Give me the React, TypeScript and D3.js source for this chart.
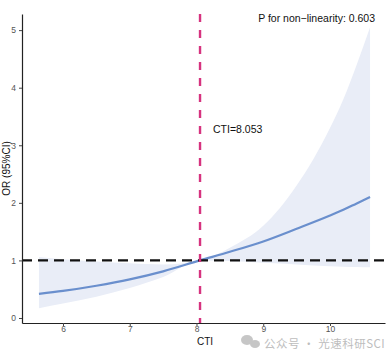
import React, { useEffect, useRef } from "react";
import * as d3 from "d3";

// spline estimate
const cti = [5.64, 6.0, 6.5, 7.0, 7.5, 8.053, 8.5, 9.0, 9.5, 10.0, 10.2, 10.4, 10.6];
const orValue = [0.42, 0.47, 0.56, 0.67, 0.81, 1.0, 1.15, 1.33, 1.55, 1.78, 1.88, 1.99, 2.1];
const lower = [0.17, 0.25, 0.37, 0.52, 0.71, 1.0, 0.99, 0.96, 0.93, 0.9, 0.89, 0.885, 0.88];
const upper = [1.06, 1.02, 0.98, 0.95, 0.93, 1.0, 1.22, 1.6, 2.3, 3.3, 3.8, 4.4, 5.05];
const xTicks = [6, 7, 8, 9, 10];
const yTicks = [0, 1, 2, 3, 4, 5];
const cutoff = 8.053;
const pNonLinear = "0.603";

export default function App() {
  const ref = useRef<SVGSVGElement>(null);

  useEffect(() => {
    const svg = d3.select(ref.current);
    svg.selectAll("*").remove();

    const x = d3.scaleLinear().domain([5.386, 10.824]).range([22, 385]);
    const y = d3.scaleLinear().domain([-0.087, 5.28]).range([323, 14]);
    const font = "'Liberation Sans', Arial, sans-serif";

    const rows = cti.map((c, i) => ({ c, or: orValue[i], lo: lower[i], hi: upper[i] }));

    const area = d3.area<any>()
      .x((d) => x(d.c))
      .y0((d) => y(d.lo))
      .y1((d) => y(d.hi))
      .curve(d3.curveMonotoneX);

    svg.append("path")
      .datum(rows)
      .attr("d", area)
      .attr("fill", "#e9edf7");

    const line = d3.line<any>()
      .x((d) => x(d.c))
      .y((d) => y(d.or))
      .curve(d3.curveMonotoneX);

    svg.append("path")
      .datum(rows)
      .attr("d", line)
      .attr("fill", "none")
      .attr("stroke", "#6a8fcd")
      .attr("stroke-width", 2.2);

    // reference line OR = 1
    svg.append("line")
      .attr("x1", x.range()[0]).attr("x2", x.range()[1])
      .attr("y1", y(1)).attr("y2", y(1))
      .attr("stroke", "#111")
      .attr("stroke-width", 2.2)
      .attr("stroke-dasharray", "10,6");

    // cutoff line
    svg.append("line")
      .attr("x1", x(cutoff)).attr("x2", x(cutoff))
      .attr("y1", y.range()[1]).attr("y2", y.range()[0])
      .attr("stroke", "#d6337f")
      .attr("stroke-width", 2.4)
      .attr("stroke-dasharray", "8,8");

    // axes
    const xAxis = svg.append("g")
      .attr("transform", `translate(0,${y.range()[0]})`)
      .call(d3.axisBottom(x).tickValues(xTicks).tickFormat(d3.format("d")).tickSize(3).tickPadding(0).tickSizeOuter(0));
    const yAxis = svg.append("g")
      .attr("transform", `translate(${x.range()[0]},0)`)
      .call(d3.axisLeft(y).tickValues(yTicks).tickFormat(d3.format("d")).tickSize(3).tickPadding(3).tickSizeOuter(0));

    [xAxis, yAxis].forEach((g) => {
      g.select(".domain").attr("stroke", "#222").attr("stroke-width", 1.2);
      g.selectAll(".tick line").attr("stroke", "#444");
      g.selectAll(".tick text")
        .attr("fill", "#555")
        .attr("font-size", 8.5)
        .attr("font-family", font);
    });

    svg.append("text")
      .attr("x", 205)
      .attr("y", 344.5)
      .attr("text-anchor", "middle")
      .attr("font-size", 10)
      .attr("font-family", font)
      .attr("fill", "#111")
      .text("CTI");

    svg.append("text")
      .attr("transform", `translate(10,${(y.range()[0] + y.range()[1]) / 2}) rotate(-90)`)
      .attr("text-anchor", "middle")
      .attr("font-size", 10)
      .attr("font-family", font)
      .attr("fill", "#111")
      .text("OR (95%CI)");

    svg.append("text")
      .attr("x", x(cutoff) + 13)
      .attr("y", 133)
      .attr("font-size", 10.5)
      .attr("font-family", font)
      .attr("fill", "#111")
      .text(`CTI=${cutoff}`);

    svg.append("text")
      .attr("x", 375)
      .attr("y", 22)
      .attr("text-anchor", "end")
      .attr("font-size", 10.5)
      .attr("font-family", font)
      .attr("fill", "#111")
      .text(`P for non\u2212linearity: ${pNonLinear}`);

    // watermark
    const wm = svg.append("g").attr("opacity", 0.55);
    wm.append("ellipse").attr("cx", 247).attr("cy", 340).attr("rx", 6).attr("ry", 5).attr("fill", "#999");
    wm.append("ellipse").attr("cx", 255).attr("cy", 344).attr("rx", 5).attr("ry", 4).attr("fill", "#999");
    wm.append("text")
      .attr("x", 264)
      .attr("y", 348)
      .attr("font-size", 11.5)
      .attr("letter-spacing", 0.5)
      .attr("font-family", "'Noto Sans CJK SC', sans-serif")
      .attr("fill", "#888")
      .text("公众号 · 光速科研SCI");
  }, []);

  return (
    <svg
      ref={ref}
      width={392}
      height={355}
      style={{ position: "absolute", left: 0, top: 0, background: "#fff" }}
    />
  );
}
